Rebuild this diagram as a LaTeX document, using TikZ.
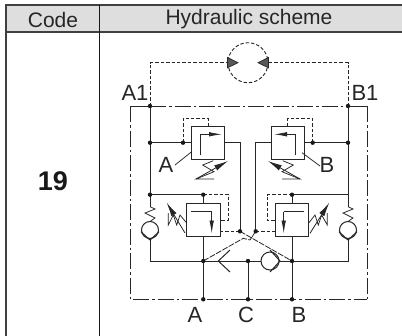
\documentclass[tikz,border=0pt]{standalone}
\usepackage{fontspec}
\setmainfont{Liberation Sans}
\usetikzlibrary{arrows.meta}
\definecolor{ln}{gray}{0.15}
\tikzset{
 x=1bp,y=-1bp,
 grid/.style={line width=1.2bp,draw=black!75},
 wire/.style={line width=1bp,draw=ln},
 pilot/.style={line width=0.9bp,draw=ln,dash pattern=on 3.4bp off 2bp},
 cross/.style={line width=0.8bp,draw=ln,dash pattern=on 6bp off 1.3bp},
 frame/.style={line width=0.9bp,draw=ln,dash pattern=on 16bp off 3bp on 2.5bp off 3bp},
 body/.style={line width=1bp,draw=ln,fill=white},
 thin/.style={line width=0.75bp,draw=ln},
 dot/.style={circle,fill=black!90,inner sep=0,minimum size=4.4bp},
 lab/.style={font=\fontsize{22bp}{22bp}\selectfont,text=black!85,inner sep=0},
 head/.style={font=\fontsize{21bp}{21bp}\selectfont,text=black!85,inner sep=0},
 tip/.style={-{Latex[length=13bp,width=4.5bp]},line width=0.8bp,draw=ln,shorten >=-1bp},
 adj/.style={-{Latex[length=14bp,width=6bp]},line width=0.8bp,draw=ln},
}
\begin{document}
\begin{tikzpicture}
\useasboundingbox (0,0) rectangle (402,336);
\fill[white] (0,0) rectangle (402,336);
% table
\fill[black!13] (6,5) rectangle (402,32);
\draw[grid] (402,5) -- (6,5) -- (6,336);
\draw[grid] (6,32) -- (402,32);
\draw[line width=.9bp,black!90] (99.4,5) -- (99.4,336);
\node[head] (hcode) at (53,19.5) {Code};
\node[head] (hscheme) at (249,19.5) {Hydraulic scheme};
\node[font=\fontsize{27bp}{27bp}\selectfont\bfseries,text=black!90,inner sep=0] (code) at (53,181) {19};
% frame
\draw[frame] (150,106) -- (348,106);
\draw[wire] (130.7,106) -- (150,106) (348,106) -- (367,106);
\draw[frame] (130.7,106) -- (130.7,299.3) -- (367,299.3);
\draw[frame] (367,106) -- (367,299.3);
% motor
\coordinate (mc) at (248,62.7);
\draw[pilot] (mc) circle (20);
\draw[pilot] (150,106) -- (150,62.7) -- (228,62.7);
\draw[pilot] (348,106) -- (348,62.7) -- (268,62.7);
\fill[black!65,draw=ln,line width=.7bp] (227.5,57.5) -- (238,62.7) -- (227.5,67.8) -- cycle;
\fill[black!65,draw=ln,line width=.7bp] (268.5,57.5) -- (258,62.7) -- (268.5,67.8) -- cycle;
% main wires
\draw[wire] (150,106) -- (150,206.7);
\draw[wire] (348,106) -- (348,206.7);
\draw[wire] (150,238) -- (150,261) -- (348,261) -- (348,238);
\draw[wire] (150,142.7) -- (191.7,142.7);
\draw[wire] (304.7,142.7) -- (348,142.7);
\draw[wire] (224.7,142.7) -- (240,142.7) -- (240,231.3);
\draw[wire] (271.3,142.7) -- (255.7,142.7) -- (255.7,231.3);
\draw[wire] (150,194.7) -- (203.3,194.7) -- (203.3,299.3);
\draw[wire] (348,194.7) -- (292,194.7) -- (292,299.3);
\draw[wire] (248,261) -- (248,299.3);
% pilots upper
\draw[pilot] (183,142.7) -- (183,118.3) -- (208.3,118.3) -- (208.3,126.7);
\draw[pilot] (312.7,142.7) -- (312.7,118.3) -- (287.3,118.3) -- (287.3,126.7);
% pilots lower
\draw[pilot] (203.3,194.7) -- (228.3,194.7) -- (228.3,220) -- (220,220);
\draw[pilot] (292,194.7) -- (267.3,194.7) -- (267.3,220) -- (275.3,220);
\draw[pilot] (220,231.3) -- (240,231.3);
\draw[pilot] (255.7,231.3) -- (275.3,231.3);
% crossing pilots
\draw[cross] (203.3,261) -- (243.3,238.3) -- (250,240);
\draw[thin] (250,240) -- (255.7,231.3);
\draw[cross] (240,231.3) -- (292,261);
% upper valves
\draw[body] (191.7,126.7) rectangle (224.7,159.3);
\draw[body] (271.3,126.7) rectangle (304.7,159.3);
\draw[thin] (200,155) -- (200,134.3);
\draw[tip] (200,134.3) -- (221,134.3);
\draw[thin] (295.7,155) -- (295.7,134.3);
\draw[tip] (295.7,134.3) -- (275,134.3);
% leaders
\draw[thin] (175,165) -- (191.7,151.7);
\draw[thin] (320,166) -- (302,152.7);
\node[lab] (la) at (166,165) {A};
\node[lab] (lb) at (327,165) {B};
% upper springs
\draw[thin] (213.3,160.7) -- (202.7,165) -- (214,171.7) -- (196,179) -- (214,179);
\draw[adj] (196,179) -- (228,161);
\draw[thin] (282.7,160.7) -- (293.3,165) -- (282,171.7) -- (300,179) -- (282,179);
\draw[adj] (300,179) -- (268,161);
% lower valves
\draw[body] (186.7,203.3) rectangle (220,236.3);
\draw[body] (275.3,203.3) rectangle (308.7,236.3);
\draw[thin] (191,211.7) -- (211.7,211.7);
\draw[tip] (211.7,211.7) -- (211.7,232.5);
\draw[thin] (304.3,211.7) -- (283.7,211.7);
\draw[tip] (283.7,211.7) -- (283.7,232.5);
% lower springs
\draw[thin] (168.3,213) -- (168.3,225) -- (173.3,215) -- (176.7,225) -- (180,215) -- (186.7,223);
\draw[adj] (185,233) -- (166.7,202.7);
\draw[thin] (308.7,223) -- (315,215) -- (318.3,225) -- (321.7,215) -- (327.3,225) -- (327.3,213);
\draw[adj] (310,233.3) -- (329.3,202.7);
% check valves
\draw[body] (150,230) circle (8.5);
\draw[body] (348,230) circle (8.5);
\draw[wire] (141,231.7) -- (150,240) -- (159,231.7);
\draw[wire] (339,231.7) -- (348,240) -- (357,231.7);
\draw[thin] (150,221.5) -- (155,218) -- (145,213) -- (155,209) -- (150,206.7);
\draw[thin] (348,221.5) -- (353,218) -- (343,213) -- (353,209) -- (348,206.7);
% centre check valves
\draw[wire] (230,250) -- (218.3,261) -- (230,272);
\draw[body] (270,261) circle (9);
\draw[wire] (270,250) -- (280,261) -- (270,272);
% dots
\foreach \n/\p in {a/{150,106},b/{348,106},c/{150,142.7},d/{183,142.7},e/{312.7,142.7},f/{348,142.7},g/{150,194.7},h/{203.3,194.7},i/{292,194.7},j/{240,231.3},k/{255.7,231.3},l/{203.3,261},m/{248,261},n/{292,261},o/{203.3,299.3},p/{248,299.3},q/{292,299.3}}
 \node[dot] (d\n) at (\p) {};
% labels
\node[lab] (a1) at (135,92.5) {A1};
\node[lab] (b1) at (365,92.5) {B1};
\node[lab] (pa) at (195,314.5) {A};
\node[lab] (pc) at (246,314.5) {C};
\node[lab] (pb) at (299,314.5) {B};
\end{tikzpicture}
\end{document}
